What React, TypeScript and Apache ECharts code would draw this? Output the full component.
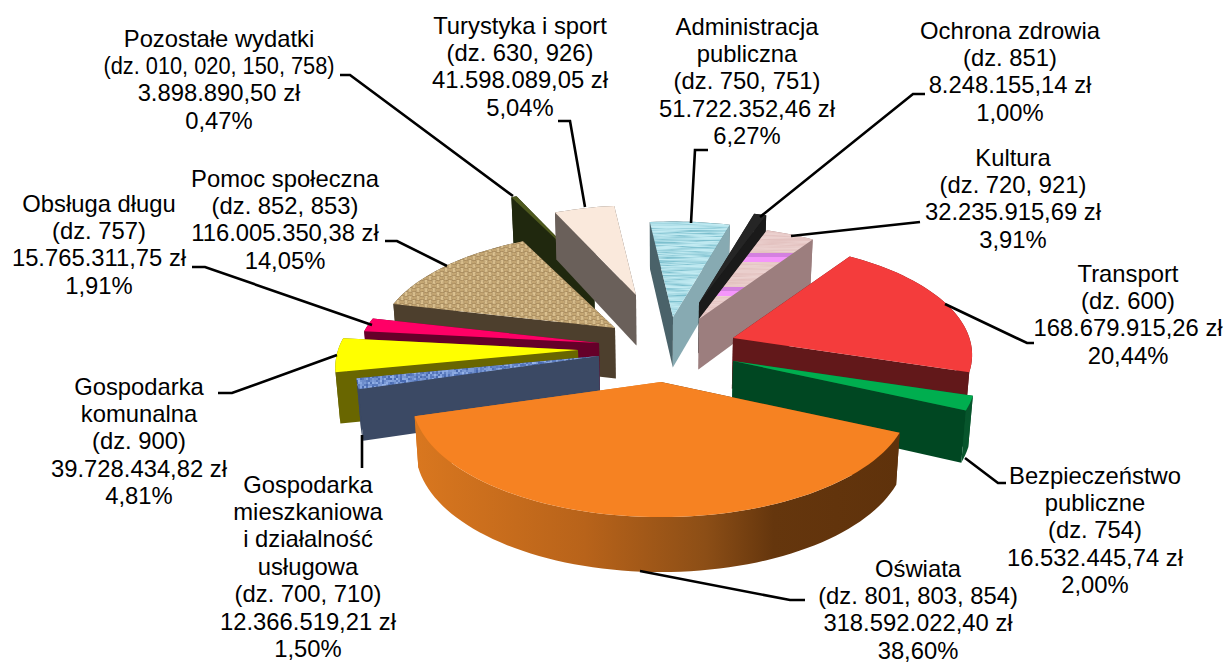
import React, { useEffect, useRef } from "react";
import * as echarts from "echarts";

// Slices in pie order (clockwise)
const categories = ["Administracja publiczna", "Ochrona zdrowia", "Kultura", "Transport", "Bezpieczeństwo publiczne", "Oświata", "Gospodarka mieszkaniowa i działalność usługowa", "Gospodarka komunalna", "Obsługa długu", "Pomoc społeczna", "Pozostałe wydatki", "Turystyka i sport"];
const values = [51722352.46, 8248155.14, 32235915.69, 168679915.26, 16532445.74, 318592022.4, 12366519.21, 39728434.82, 15765311.75, 116005350.38, 3898890.5, 41598089.05];
const labelLines = [
  ["Administracja", "publiczna", "(dz. 750, 751)", "51.722.352,46 zł", "6,27%"],
  ["Ochrona zdrowia", "(dz. 851)", "8.248.155,14 zł", "1,00%"],
  ["Kultura", "(dz. 720, 921)", "32.235.915,69 zł", "3,91%"],
  ["Transport", "(dz. 600)", "168.679.915,26 zł", "20,44%"],
  ["Bezpieczeństwo", "publiczne", "(dz. 754)", "16.532.445,74 zł", "2,00%"],
  ["Oświata", "(dz. 801, 803, 854)", "318.592.022,40 zł", "38,60%"],
  ["Gospodarka", "mieszkaniowa", "i działalność", "usługowa", "(dz. 700, 710)", "12.366.519,21 zł", "1,50%"],
  ["Gospodarka", "komunalna", "(dz. 900)", "39.728.434,82 zł", "4,81%"],
  ["Obsługa długu", "(dz. 757)", "15.765.311,75 zł", "1,91%"],
  ["Pomoc społeczna", "(dz. 852, 853)", "116.005.350,38 zł", "14,05%"],
  ["Pozostałe wydatki", "(dz. 010, 020, 150, 758)", "3.898.890,50 zł", "0,47%"],
  ["Turystyka i sport", "(dz. 630, 926)", "41.598.089,05 zł", "5,04%"],
];

// Layout and style, by slice
const apex = [[673, 317], [699, 303], [699, 319], [733, 338], [733, 361], [661, 382], [599, 356], [578, 350], [599, 343], [615, 328], [594, 275], [636, 295]];
const radiusScale = [0.98, 0.95, 0.96, 0.985, 1, 1.025, 1, 1, 1, 0.98, 0.88, 0.92];
const labelAnchor = [[747, 26], [1010, 30], [1013, 157], [1128, 273], [1095, 475], [918, 568], [308, 484], [139, 386], [99, 203], [285, 178], [219, 38], [520, 25]];
const leaders = [
  [[708, 150], [695, 150], [691, 223]],
  [[925, 94], [913, 94], [760, 217]],
  [[920, 222], [791, 236]],
  [[1034, 343], [1027, 343], [945, 304]],
  [[1006, 483], [998, 483], [965, 458]],
  [[805, 600], [790, 600], [640, 571]],
  [[362, 435], [362, 468]],
  [[218, 393], [232, 393], [337, 355]],
  [[192, 267], [205, 267], [372, 325]],
  [[385, 241], [397, 241], [447, 266]],
  [[340, 75], [350, 75], [513, 196]],
  [[558, 121], [570, 121], [585, 207]],
];
const wallStart = ["#4a6269", "#1a1a1a", "#9c7e7e", "#62181a", "#07552c", "#62340c", "#3b4964", "#696600", "#650029", "#4d3f2d", "#20280e", "#6a605a"];
const wallEnd = ["#87aab2", "#1a1a1a", "#9c7e7e", "#62181a", "#004722", "#d9771f", "#3b4964", "#696600", "#650029", "#4d3f2d", "#20280e", "#6a605a"];
const drawOrder = [10, 11, 0, 1, 2, 9, 3, 8, 7, 6, 4, 5];

const PHI = -6.5, R = 240, K = 112, Q = 0.15, VX = 660, STEP_LINE = 27.4, FONT_SIZE = 23.8;
const CONDENSED_LINE = "(dz. 010, 020, 150, 758)";

function hash(a: number, b: number) {
  const v = Math.sin(a * 127.1 + b * 311.7) * 43758.5453;
  return v - Math.floor(v);
}
function texture(w: number, h: number, fn: (x: number, y: number) => number[]) {
  const c = document.createElement("canvas");
  c.width = w; c.height = h;
  const g = c.getContext("2d")!;
  const img = g.createImageData(w, h);
  for (let y = 0; y < h; y++) for (let x = 0; x < w; x++) {
    const [r, gr, b] = fn(x, y);
    const i = (y * w + x) * 4;
    img.data[i] = r; img.data[i + 1] = gr; img.data[i + 2] = b; img.data[i + 3] = 255;
  }
  g.putImageData(img, 0, 0);
  return { image: c, repeat: "repeat" };
}
const mix = (a: number[], b: number[], t: number) => a.map((v, i) => Math.round(v + (b[i] - v) * t));
// horizontal streak noise: each row is a run of long soft dashes
const streak = (x: number, y: number, w: number) => {
  const off = Math.floor(hash(y, 7) * w);
  const xx = (x + off) % w;
  const cell = Math.floor(xx / 16);
  const a = hash(cell, y);
  const b = hash((cell + 1) % Math.ceil(w / 16), y);
  const f = (xx % 16) / 16;
  return a + (b - a) * f;
};

function makeTops(): any[] {
  const water = texture(160, 96, (x, y) => mix([196, 236, 243], [122, 190, 205], Math.pow(streak(x, y, 160), 1.6)));
  const pink = texture(160, 34, (x, y) => {
    if (y >= 15 && y < 24) return y < 19 ? [212, 128, 224] : [244, 150, 250];
    return mix([236, 210, 208], [226, 192, 190], streak(x, y, 160));
  });
  const burlap = texture(48, 48, (x, y) => {
    const over = (Math.floor(x / 4) + Math.floor(y / 4)) % 2 === 0;
    const d = over ? (x % 4) : (y % 4);
    const edge = d === 0 || d === 3 ? 1 : 0;
    return mix(over ? [222, 196, 146] : [200, 170, 118], [140, 112, 72], edge * 0.32 + hash(x, y) * 0.18);
  });
  const blue = texture(48, 48, (x, y) => mix([150, 180, 234], [70, 104, 176], hash(Math.floor(x / 2), Math.floor(y / 2))));
  return [water, "#252525", pink, "#f43c3c", "#00ae4f", "#f68222", blue, "#ffff00", "#ff0066", burlap, "#4f5a1e", "#fae9dc"];
}

export default function App() {
  const ref = useRef<HTMLDivElement>(null);
  useEffect(() => {
    document.body.style.margin = "0";
    const chart = echarts.init(ref.current!, null, { renderer: "svg" });
    const tops = makeTops();
    const total = values.reduce((a, b) => a + b, 0);
    let acc = 0;
    const spans = values.map((v) => {
      const a = PHI + (acc / total) * 360;
      acc += v;
      return [a, PHI + (acc / total) * 360];
    });

    const renderItem = (params: any) => {
      const i = drawOrder[params.dataIndex];
      const [ax, ay] = apex[i];
      const sc = radiusScale[i];
      const pt = (deg: number) => {
        const t = (deg * Math.PI) / 180;
        const s = 1 / (1 + Q * Math.cos(t));
        return [ax + R * sc * s * Math.sin(t), ay - K * sc * s * Math.cos(t), s];
      };
      const down = (p: number[], s: number) => {
        const h = 24.4 + 26 * s;
        return [p[0] - (p[0] - VX) * 0.015, p[1] + h];
      };
      const [t1, t2] = spans[i];
      const arc: number[][] = [];
      const n = Math.max(2, Math.ceil((t2 - t1) / 2));
      for (let k = 0; k <= n; k++) arc.push(pt(t1 + ((t2 - t1) * k) / n));
      const top = [ax, ay];
      const arcTop = arc.map((p) => [p[0], p[1]]);
      const arcBot = arc.map((p) => down(p, p[2]));
      const apexBot = down(top, 1);
      const gradient = new echarts.graphic.LinearGradient(0, 0, 1, 0, [
        { offset: 0, color: "#d9771f" },
        { offset: 0.35, color: "#b8631a" },
        { offset: 0.6, color: "#8c4e16" },
        { offset: 0.74, color: "#65360d" },
        { offset: 1, color: "#5f320b" },
      ]);
      const walls = [
        { points: [top, arcTop[0], arcBot[0], apexBot], fill: wallStart[i] },
        { points: [top, arcTop[n], arcBot[n], apexBot], fill: wallEnd[i] },
        { points: [...arcTop, ...arcBot.slice().reverse()], fill: i === 5 ? gradient : wallStart[i] },
      ];
      const meanY = (ps: number[][]) => ps.reduce((a, p) => a + p[1], 0) / ps.length;
      walls.sort((a, b) => meanY(a.points) - meanY(b.points));
      const children: any[] = walls.map((w) => ({ type: "polygon", shape: { points: w.points }, style: { fill: w.fill, stroke: "none" } }));
      children.push({ type: "polygon", shape: { points: [top, ...arcTop] }, style: { fill: tops[i], stroke: "none" } });
      return { type: "group", children };
    };

    const labelSeriesItem = (params: any) => {
      const i = params.dataIndex;
      const children: any[] = [{
        type: "polyline",
        shape: { points: leaders[i] },
        style: { stroke: "#000", lineWidth: 2.6, fill: "none" },
      }];
      labelLines[i].forEach((line, k) => {
        children.push({
          type: "text",
          x: labelAnchor[i][0],
          y: labelAnchor[i][1] + k * STEP_LINE,
          scaleX: line === CONDENSED_LINE ? 0.915 : 1,
          style: {
            text: line,
            x: 0,
            y: 0,
            align: "center",
            verticalAlign: "middle",
            fill: "#000",
            font: `${FONT_SIZE}px "Liberation Sans"`,
          },
        });
      });
      return { type: "group", children };
    };

    chart.setOption({
      animation: false,
      backgroundColor: "#fff",
      series: [
        { type: "custom", name: "wydatki", coordinateSystem: "none", renderItem, silent: true, clip: false, data: drawOrder.map((i) => ({ name: categories[i], value: values[i] })) },
        { type: "custom", name: "opisy", coordinateSystem: "none", renderItem: labelSeriesItem, silent: true, clip: false, data: values.map((v, i) => ({ name: categories[i], value: v })) },
      ],
    });
    return () => chart.dispose();
  }, []);
  return <div ref={ref} style={{ width: 1225, height: 664, position: "absolute", left: 0, top: 0 }} />;
}
